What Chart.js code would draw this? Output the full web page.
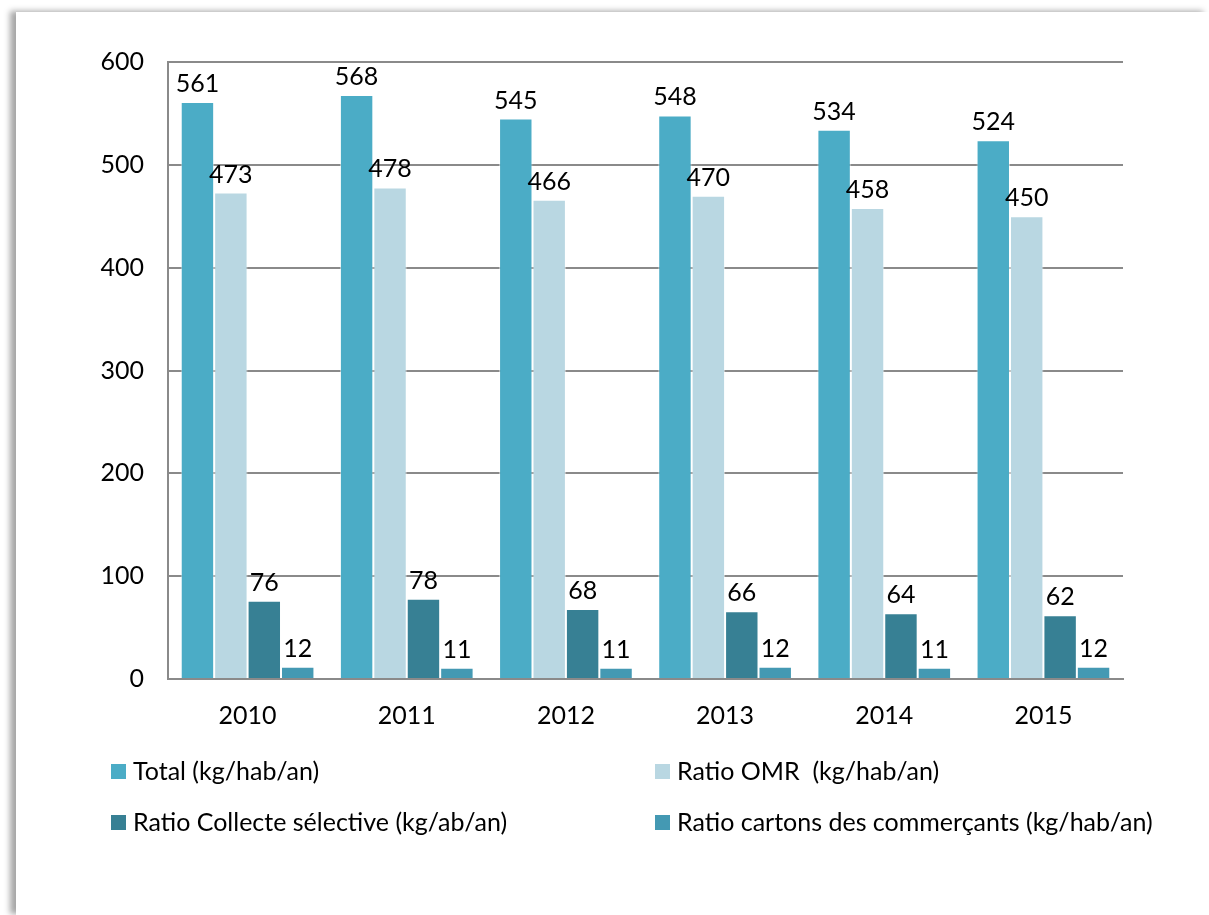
<!DOCTYPE html>
<html>
<head>
<meta charset="utf-8">
<script src="https://cdn.jsdelivr.net/npm/chart.js@4.4.0/dist/chart.umd.min.js"></script>
<style>
html,body{margin:0;padding:0;background:#fff;}
#frame{position:absolute;left:16px;top:12px;width:1193px;height:903px;background:#fff;
  box-shadow:-6px -1px 6px rgba(0,0,0,0.35);}
#wrap{position:absolute;left:0;top:0;width:1209px;height:915px;}
</style>
</head>
<body>
<div id="frame"></div>
<div id="wrap"><canvas id="c" width="1209" height="915"></canvas></div>
<script>
const categories = ["2010","2011","2012","2013","2014","2015"];
const seriesNames = ["Total (kg/hab/an)","Ratio OMR  (kg/hab/an)","Ratio Collecte sélective (kg/ab/an)","Ratio cartons des commerçants (kg/hab/an)"];
const totalValues = [561,568,545,548,534,524];
const omrValues = [473,478,466,470,458,450];
const collecteValues = [76,78,68,66,64,62];
const cartonsValues = [12,11,11,12,11,12];
const yTicks = [0,100,200,300,400,500,600];
const colors = ["#4BACC6","#B9D7E2","#378094","#4499B3"];

const FONT = "Lato, 'Open Sans', sans-serif";
const FS = 25;

const labelPlugin = {
  id: 'vals',
  afterDatasetsDraw(chart){
    const ctx = chart.ctx;
    ctx.save();
    ctx.font = FS + "px " + FONT;
    ctx.fillStyle = "#000";
    ctx.textAlign = "center";
    ctx.textBaseline = "alphabetic";
    chart.data.datasets.forEach((ds,i)=>{
      chart.getDatasetMeta(i).data.forEach((bar,j)=>{
        ctx.fillText(String(ds.data[j]), bar.x, bar.y - 10);
      });
    });
    ctx.restore();
  }
};

const legendPlugin = {
  id: 'customLegend',
  afterDraw(chart){
    const ctx = chart.ctx;
    ctx.save();
    ctx.font = FS + "px " + FONT;
    ctx.fillStyle = "#000";
    ctx.textBaseline = "middle";
    const pos = [[111,764],[655,764],[111,815],[655,815]];
    chart.data.datasets.forEach((ds,i)=>{
      const [x,y] = pos[i];
      ctx.fillStyle = ds.backgroundColor;
      ctx.fillRect(x,y,15,15);
      ctx.fillStyle = "#000";
      ctx.fillText(ds.label, x+22, y+8);
    });
    ctx.restore();
  }
};

const datasets = [totalValues, omrValues, collecteValues, cartonsValues].map((d,i)=>({
  label: seriesNames[i],
  data: d,
  backgroundColor: colors[i],
  borderColor: "rgba(255,255,255,0.5)",
  borderWidth: 1,
  barPercentage: 1.0,
  categoryPercentage: 0.84
}));

new Chart(document.getElementById('c'), {
  type: 'bar',
  data: { labels: categories, datasets },
  options: {
    responsive: false,
    animation: false,
    devicePixelRatio: 1,
    layout: { padding: { left: 0, right: 86, top: 62, bottom: 0 } },
    plugins: { legend: { display: false }, tooltip: { enabled: false } },
    scales: {
      x: {
        grid: { display: false, drawTicks: false },
        border: { display: true, color: "#8a8a8a", width: 2 },
        ticks: { color: "#000", font: { family: FONT, size: FS }, padding: 22 },
        afterFit(s){ s.height = 236; }
      },
      y: {
        min: 0, max: 600,
        afterBuildTicks(s){ s.ticks = yTicks.map(v=>({value:v})); },
        grid: { color: "#8a8a8a", lineWidth: 2, drawTicks: false },
        border: { display: true, color: "#8a8a8a", width: 2 },
        ticks: { color: "#000", font: { family: FONT, size: FS }, padding: 24 },
        afterFit(s){ s.width = 168; }
      }
    }
  },
  plugins: [labelPlugin, legendPlugin]
});
</script>
</body>
</html>
